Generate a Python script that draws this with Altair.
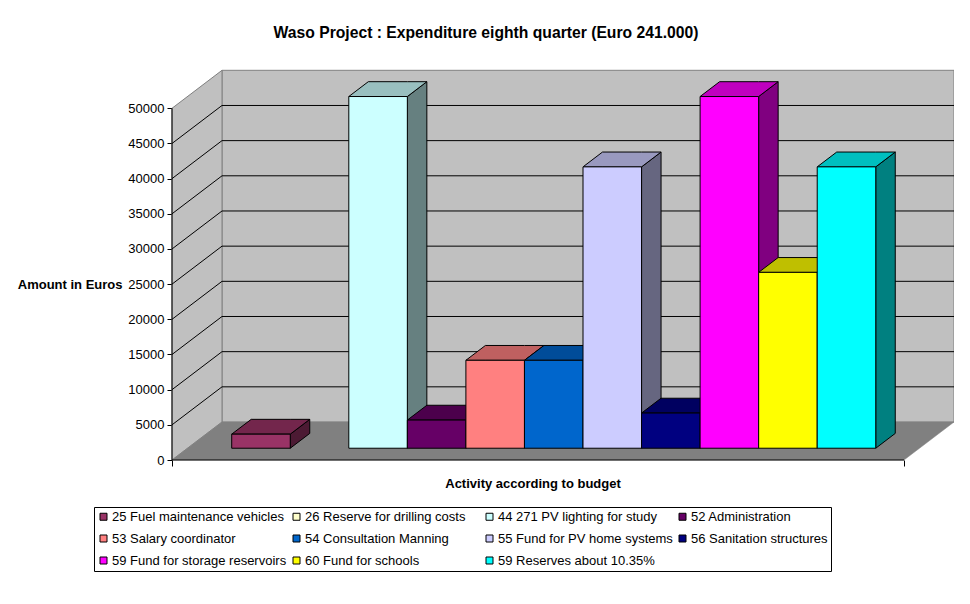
import altair as alt
import pandas as pd

# ---------------- data ----------------
categories = [
    "25 Fuel maintenance vehicles",
    "26 Reserve for drilling costs",
    "44 271 PV lighting for study",
    "52 Administration",
    "53 Salary coordinator",
    "54 Consultation Manning",
    "55 Fund for PV home systems",
    "56 Sanitation structures",
    "59 Fund for storage reservoirs",
    "60 Fund for schools",
    "59 Reserves about 10.35%",
]
values = [2000, 0, 50000, 4000, 12500, 12500, 40000, 5000, 50000, 25000, 40000]
colors = ["#993366", "#FFFFCC", "#CCFFFF", "#660066", "#FF8080", "#0066CC",
          "#CCCCFF", "#000080", "#FF00FF", "#FFFF00", "#00FFFF"]
y_ticks = [0, 5000, 10000, 15000, 20000, 25000, 30000, 35000, 40000, 45000, 50000]
grid_levels = y_ticks[1:-1]

# ---------------- geometry (oblique 3-D look) ----------------
PLOT_W, PLOT_H = 782, 390
SLOT_PX = 58.55
EUR_PER_PX = 50000 / 351.7
X_MAX = PLOT_W / SLOT_PX
Y_MAX = PLOT_H * EUR_PER_PX
DX = 50 / SLOT_PX          # full depth, x shift (slots)
DY = 38 * EUR_PER_PX       # full depth, y shift (euros)
FLOOR_W = 732 / SLOT_PX
X0 = 0.755
FA, FB = 0.31, 0.70        # bar front / back depth fractions
WALL_TOP = y_ticks[-1]


def shade(hx, k):
    hx = hx.lstrip("#")
    r, g, b = (int(hx[i:i + 2], 16) for i in (0, 2, 4))
    return "#%02x%02x%02x" % (round(r * k), round(g * k), round(b * k))


xs = alt.Scale(domain=[0, X_MAX], nice=False, zero=False)
ys = alt.Scale(domain=[0, Y_MAX], nice=False, zero=False)

AX_X = alt.Axis(
    values=[0, FLOOR_W], labels=False, tickSize=6, tickColor="black", domain=False,
    grid=False, title="Activity according to budget", titleFontSize=13,
    titleFontWeight="bold", titleColor="black", titleX=360.5, titleY=23,
    titleBaseline="middle", titleAlign="center")
AX_Y = alt.Axis(
    values=y_ticks, format="d", tickSize=5, tickColor="black", domain=False, grid=False,
    labelFontSize=13, labelColor="black", labelPadding=3,
    title="Amount in Euros", titleAngle=0, titleAlign="right", titleBaseline="middle",
    titleX=-50, titleY=PLOT_H - 25000 / EUR_PER_PX, titleFontSize=13,
    titleFontWeight="bold", titleColor="black")

# walls / floor
back_wall = pd.DataFrame([{"x": DX, "x2": FLOOR_W + DX, "y": DY, "y2": WALL_TOP + DY}])
side_wall = pd.DataFrame([
    {"x": 0, "y": 0, "y2": WALL_TOP},
    {"x": DX, "y": DY, "y2": WALL_TOP + DY},
])
floor = pd.DataFrame([
    {"x": 0, "y": 0, "y2": 0},
    {"x": DX, "y": 0, "y2": DY},
    {"x": FLOOR_W, "y": 0, "y2": DY},
    {"x": FLOOR_W + DX, "y": DY, "y2": DY},
])
grid_back = pd.DataFrame([{"x": DX, "x2": FLOOR_W + DX, "y": v + DY} for v in grid_levels])
grid_side = pd.DataFrame([{"x": 0, "x2": DX, "y": v, "y2": v + DY} for v in grid_levels])
axis_line = pd.DataFrame([{"x": 0, "y": 0, "y2": WALL_TOP}])
base_line = pd.DataFrame([{"x": 0, "x2": FLOOR_W, "y": 0}])

fronts, tops, sides = [], [], []
for i, (name, v, c) in enumerate(zip(categories, values, colors)):
    if v <= 0:
        continue
    xl, xr = X0 + i, X0 + i + 1
    fronts.append({"name": name, "x": xl + FA * DX, "x2": xr + FA * DX,
                   "y": FA * DY, "y2": v + FA * DY})
    tc = shade(c, 0.75)
    for x, y, y2 in [
        (xl + FA * DX, v + FA * DY, v + FA * DY),
        (xl + FB * DX, v + FA * DY, v + FB * DY),
        (xr + FA * DX, v + FA * DY, v + FB * DY),
        (xr + FB * DX, v + FB * DY, v + FB * DY),
    ]:
        tops.append({"name": name, "fill": tc, "x": x, "y": y, "y2": y2})
    sc = shade(c, 0.5)
    sides.append({"name": name, "fill": sc, "x": xr + FA * DX, "y": FA * DY, "y2": v + FA * DY})
    sides.append({"name": name, "fill": sc, "x": xr + FB * DX, "y": FB * DY, "y2": v + FB * DY})

fronts = pd.DataFrame(fronts)
tops = pd.DataFrame(tops)
sides = pd.DataFrame(sides)

X = lambda f="x": alt.X(f + ":Q", scale=xs, axis=AX_X)
Y = lambda f="y": alt.Y(f + ":Q", scale=ys, axis=AX_Y, stack=None)

l_back = alt.Chart(back_wall).mark_rect(fill="#C0C0C0", stroke="#808080", strokeWidth=1).encode(
    x=X(), x2="x2:Q", y=Y(), y2="y2:Q")
l_side = alt.Chart(side_wall).mark_area(orient="vertical", fill="#C0C0C0", stroke="#808080",
                                        strokeWidth=1).encode(
    x=X(), y=Y(), y2="y2:Q")
l_floor = alt.Chart(floor).mark_area(orient="vertical", fill="#808080", stroke="#808080",
                                     strokeWidth=0.5).encode(
    x=X(), y=Y(), y2="y2:Q")
l_gb = alt.Chart(grid_back).mark_rule(color="black", strokeWidth=1).encode(
    x=X(), x2="x2:Q", y=Y())
l_gs = alt.Chart(grid_side).mark_rule(color="black", strokeWidth=1).encode(
    x=X(), x2="x2:Q", y=Y(), y2="y2:Q")
l_axis = alt.Chart(axis_line).mark_rule(color="black", strokeWidth=1).encode(
    x=X(), y=Y(), y2="y2:Q")
l_base = alt.Chart(base_line).mark_rule(color="black", strokeWidth=1).encode(
    x=X(), x2="x2:Q", y=Y())
l_sides = alt.Chart(sides).mark_area(orient="vertical", stroke="black", strokeWidth=1).encode(
    x=X(), y=Y(), y2="y2:Q", fill=alt.Fill("fill:N", scale=None), detail="name:N")
l_tops = alt.Chart(tops).mark_area(orient="vertical", stroke="black", strokeWidth=1).encode(
    x=X(), y=Y(), y2="y2:Q", fill=alt.Fill("fill:N", scale=None), detail="name:N")
l_fronts = alt.Chart(fronts).mark_rect(stroke="black", strokeWidth=1).encode(
    x=X(), x2="x2:Q", y=Y(), y2="y2:Q",
    color=alt.Color("name:N", scale=alt.Scale(domain=categories, range=colors),
                    legend=alt.Legend(
                        orient="none", legendX=-78, legendY=437, columns=4,
                        direction="horizontal",
                        gridAlign="all", title=None, symbolType="square", symbolSize=49,
                        symbolStrokeColor="black", symbolStrokeWidth=1, symbolOpacity=1,
                        labelFontSize=13, labelColor="black", labelLimit=400, labelOffset=2,
                        columnPadding=3, rowPadding=8, padding=3,
                        strokeColor="black", fillColor="white")))

chart = alt.layer(
    l_back, l_side, l_floor, l_gb, l_gs, l_axis, l_base, l_sides, l_tops, l_fronts
).properties(
    width=PLOT_W, height=PLOT_H,
    autosize=alt.AutoSizeParams(type="none"),
    padding={"left": 164, "top": 62, "right": 0, "bottom": 120},
    title=alt.TitleParams(
        "Waso Project : Expenditure eighth quarter (Euro 241.000)",
        fontSize=15.7, fontWeight="bold", color="black", anchor="middle",
        frame="group", dx=-77, offset=20, baseline="middle"),
).configure(
    font="Liberation Sans",
    background="white",
).configure_view(stroke=None)

chart.save("out.html", embed_options={"renderer": "svg", "actions": False})
